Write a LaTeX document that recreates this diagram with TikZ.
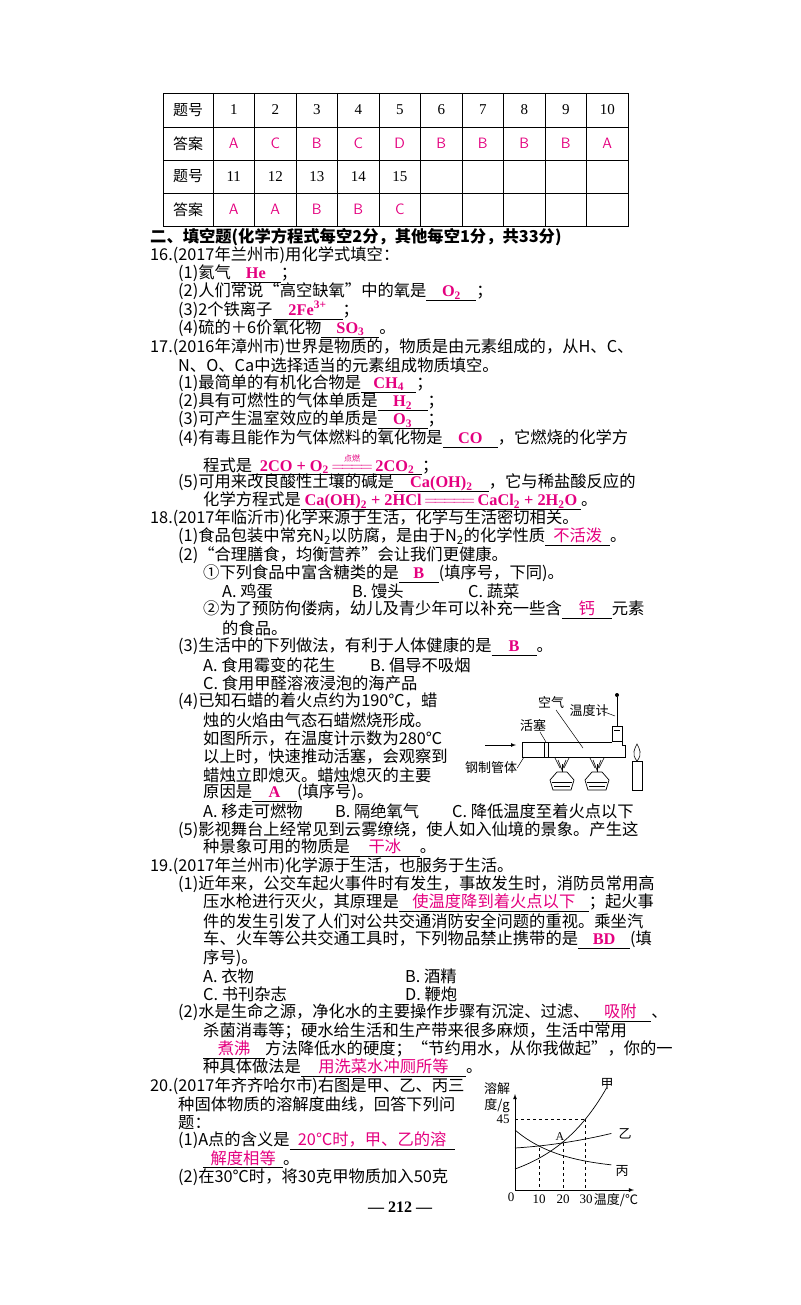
\documentclass[tikz,border=0pt]{standalone}
\usepackage{fontspec}
\usepackage{amsmath}
\setmainfont{Noto Sans CJK SC}
\newfontfamily\lat{Liberation Serif}
\newfontfamily\cjk{Noto Sans CJK SC}
\definecolor{ans}{RGB}{228,0,127}
\newcommand\fs{\fontsize{16.3}{18}\selectfont}
\newcommand\ans[2]{\leavevmode\rlap{\rule[-4pt]{#1}{0.6pt}}\makebox[#1]{\color{ans}#2}}
\newcommand\ansl[2]{\leavevmode\rlap{\rule[-4pt]{#1}{0.6pt}}\makebox[#1]{\color{ans}\lat\bfseries #2}}
\newcommand\sub[1]{\textsubscript{#1}}
\newcommand\dr{\ensuremath{\overset{\text{\cjk\mdseries\fontsize{8}{8}\selectfont 点燃}}{=\joinrel=\joinrel=\joinrel=}}}
\newcommand\dd{\ensuremath{=\joinrel=\joinrel=\joinrel=\joinrel=}}
\tikzset{L/.style={anchor=west,inner sep=0pt,font=\fs},
 C/.style={inner sep=0pt,font=\fontsize{15}{15}\selectfont},
 CA/.style={C,text=ans,font=\fontsize{15}{15}\selectfont\sffamily},
 lab/.style={inner sep=0pt,font=\fontsize{13}{13}\selectfont},
 ax/.style={line width=0.8pt},
 dsh/.style={dashed,line width=0.7pt}}
\begin{document}
\begin{tikzpicture}[x=1pt,y=-1pt]
\useasboundingbox (0,0) rectangle (800,1305);
% table
\draw[line width=0.6pt] (163,93) rectangle (628,226);
\foreach \y in {127,160,193} \draw[line width=0.6pt] (163,\y) -- (628,\y);
\draw[line width=0.6pt] (213,93) -- (213,226);
\foreach \i in {1,...,9} \draw[line width=0.6pt] ({213+41.5*\i},93) -- ({213+41.5*\i},226);
\node[C] (h1) at (188,110) {题号};
\node[C] (h2) at (188,143.5) {答案};
\node[C] (h3) at (188,176.5) {题号};
\node[C] (h4) at (188,209.5) {答案};
\foreach \t [count=\i] in {1,...,10} \node[C,font=\fontsize{15}{15}\selectfont\lat] (n\i) at ({213+41.5*\i-20.75},110) {\t};
\foreach \t [count=\i] in {A,C,B,C,D,B,B,B,B,A} \node[CA] (a\i) at ({213+41.5*\i-20.75},143.5) {\t};
\foreach \t [count=\i] in {11,12,13,14,15} \node[C,font=\fontsize{15}{15}\selectfont\lat] (m\i) at ({213+41.5*\i-20.75},176.5) {\t};
\foreach \t [count=\i] in {A,A,B,B,C} \node[CA] (b\i) at ({213+41.5*\i-20.75},209.5) {\t};
% text
\node[L,font=\fs\bfseries] (t1) at (150,237) {二、填空题(化学方程式每空2分，其他每空1分，共33分)};
\node[L] (t2) at (150,255.3) {16.(2017年兰州市)用化学式填空：};
\node[L] (t3) at (178,273.6) {(1)氦气\ansl{50pt}{He}；};
\node[L] (t4) at (178,291.9) {(2)人们常说“高空缺氧”中的氧是\ansl{50pt}{O\sub{2}}；};
\node[L] (t5) at (178,310.2) {(3)2个铁离子\ansl{70pt}{2Fe\textsuperscript{3+}}；};
\node[L] (t6) at (178,328.5) {(4)硫的＋6价氧化物\ansl{58pt}{SO\sub{3}}。};
\node[L] (t7) at (150,346.8) {17.(2016年漳州市)世界是物质的，物质是由元素组成的，从H、C、};
\node[L] (t8) at (178,365.1) {N、O、Ca中选择适当的元素组成物质填空。};
\node[L] (t9) at (178,383.4) {(1)最简单的有机化合物是\ansl{55pt}{CH\sub{4}}；};
\node[L] (t10) at (178,401.7) {(2)具有可燃性的气体单质是\ansl{50pt}{H\sub{2}}；};
\node[L] (t11) at (178,420) {(3)可产生温室效应的单质是\ansl{50pt}{O\sub{3}}；};
\node[L] (t12) at (178,438.3) {(4)有毒且能作为气体燃料的氧化物是\ansl{55pt}{CO}，它燃烧的化学方};
\node[L] (t13) at (203,464) {程式是\ansl{170pt}{2CO + O\sub{2}\,\dr\,2CO\sub{2}}；};
\node[L] (t14) at (178,482.5) {(5)可用来改良酸性土壤的碱是\ansl{95pt}{Ca(OH)\sub{2}}，它与稀盐酸反应的};
\node[L] (t15) at (203,500.8) {化学方程式是\ansl{280pt}{Ca(OH)\sub{2} + 2HCl\,\dd\,CaCl\sub{2} + 2H\sub{2}O}。};
\node[L] (t16) at (150,518.6) {18.(2017年临沂市)化学来源于生活，化学与生活密切相关。};
\node[L] (t17) at (178,536.9) {(1)食品包装中常充N\sub{2}以防腐，是由于N\sub{2}的化学性质\ans{65pt}{不活泼}。};
\node[L] (t18) at (178,555.2) {(2)“合理膳食，均衡营养”会让我们更健康。};
\node[L] (t19) at (203,573.5) {①下列食品中富含糖类的是\ansl{40pt}{B}(填序号，下同)。};
\node[L] (t20a) at (222,591.8) {A. 鸡蛋};
\node[L] (t20b) at (352,591.8) {B. 馒头};
\node[L] (t20c) at (468,591.8) {C. 蔬菜};
\node[L] (t21) at (203,610.1) {②为了预防佝偻病，幼儿及青少年可以补充一些含\ans{50pt}{钙}元素};
\node[L] (t22) at (222,628.4) {的食品。};
\node[L] (t23) at (178,646.7) {(3)生活中的下列做法，有利于人体健康的是\ansl{45pt}{B}。};
\node[L] (t24a) at (203,665) {A. 食用霉变的花生};
\node[L] (t24b) at (370,665) {B. 倡导不吸烟};
\node[L] (t25) at (203,683.3) {C. 食用甲醛溶液浸泡的海产品};
\node[L] (t26) at (178,701.6) {(4)已知石蜡的着火点约为190℃，蜡};
\node[L] (t27) at (203,719.9) {烛的火焰由气态石蜡燃烧形成。};
\node[L] (t28) at (203,738.2) {如图所示，在温度计示数为280℃};
\node[L] (t29) at (203,756.5) {以上时，快速推动活塞，会观察到};
\node[L] (t30) at (203,774.8) {蜡烛立即熄灭。蜡烛熄灭的主要};
\node[L] (t31) at (203,793.1) {原因是\ansl{45pt}{A}(填序号)。};
\node[L] (t32a) at (203,811.4) {A. 移走可燃物};
\node[L] (t32b) at (335,811.4) {B. 隔绝氧气};
\node[L] (t32c) at (452,811.4) {C. 降低温度至着火点以下};
\node[L] (t33) at (178,829.7) {(5)影视舞台上经常见到云雾缭绕，使人如入仙境的景象。产生这};
\node[L] (t34) at (203,848) {种景象可用的物质是\ans{70pt}{干冰}。};
\node[L] (t35) at (150,866.3) {19.(2017年兰州市)化学源于生活，也服务于生活。};
\node[L] (t36) at (178,884.6) {(1)近年来，公交车起火事件时有发生，事故发生时，消防员常用高};
\node[L] (t37) at (203,902.9) {压水枪进行灭火，其原理是\ans{190pt}{使温度降到着火点以下}；起火事};
\node[L] (t38) at (203,921.2) {件的发生引发了人们对公共交通消防安全问题的重视。乘坐汽};
\node[L] (t39) at (203,939.5) {车、火车等公共交通工具时，下列物品禁止携带的是\ansl{52pt}{BD}(填};
\node[L] (t40) at (203,957.8) {序号)。};
\node[L] (t41a) at (203,976.1) {A. 衣物};
\node[L] (t41b) at (405,976.1) {B. 酒精};
\node[L] (t42a) at (203,994.4) {C. 书刊杂志};
\node[L] (t42b) at (405,994.4) {D. 鞭炮};
\node[L] (t43) at (178,1012.7) {(2)水是生命之源，净化水的主要操作步骤有沉淀、过滤、\ans{62pt}{吸附}、};
\node[L] (t44) at (203,1031) {杀菌消毒等；硬水给生活和生产带来很多麻烦，生活中常用};
\node[L] (t45) at (203,1049.3) {\ans{62pt}{煮沸}方法降低水的硬度；“节约用水，从你我做起”，你的一};
\node[L] (t46) at (203,1067.6) {种具体做法是\ans{165pt}{用洗菜水冲厕所等}。};
\node[L] (t47) at (150,1085.9) {20.(2017年齐齐哈尔市)右图是甲、乙、丙三};
\node[L] (t48) at (178,1104.2) {种固体物质的溶解度曲线，回答下列问};
\node[L] (t49) at (178,1122.5) {题：};
\node[L] (t50) at (178,1140.8) {(1)A点的含义是\ans{165pt}{20℃时，甲、乙的溶}};
\node[L] (t51) at (203,1159.1) {\ans{80pt}{解度相等}。};
\node[L] (t52) at (178,1177.4) {(2)在30℃时，将30克甲物质加入50克};
\node[inner sep=0pt,font=\fontsize{16}{16}\selectfont\lat\bfseries] (pg) at (400,1207) {— 212 —};
% apparatus
\draw[line width=0.8pt] (612,742) -- (522,742) -- (522,757) -- (625,757) -- (625,745) -- (622,745) -- (622,741);
\draw[line width=0.8pt] (612,726) rectangle (622,741);
\draw[line width=0.8pt] (614,730) -- (620,730);
\draw[line width=0.8pt] (617,697) -- (617,726);
\fill (617,695) circle (2pt);
\draw[line width=0.8pt] (544,742) -- (544,757) (548,742) -- (548,757);
\draw[-latex,line width=0.7pt] (485,745) -- (516,745);
\node[lab] (kq) at (551,703) {空气};
\node[lab] (wdj) at (589,711) {温度计};
\node[lab] (hs) at (533,726) {活塞};
\node[lab] (gz) at (491,768) {钢制管体};
\coordinate (kqe) at (583,748);
\coordinate (wdje) at (615,716);
\coordinate (hse) at (546,742);
\coordinate (gze) at (524,757);
\draw[line width=0.5pt] (556,710) -- (kqe);
\draw[line width=0.5pt] (602,711) -- (wdje);
\draw[line width=0.5pt] (540,732) -- (hse);
\draw[line width=0.5pt] (gz.east) -- (gze);
\foreach \cx in {562,597}{
 \draw[line width=0.7pt] (\cx-5,772) -- (\cx-12,780) -- (\cx-9,790) -- (\cx+9,790) -- (\cx+12,780) -- (\cx+5,772) -- cycle;
 \draw[line width=0.5pt] (\cx-10,782) -- (\cx+10,782) (\cx-8,786) -- (\cx+8,786);
 \draw[line width=0.6pt] (\cx,772) -- (\cx,764);
 \draw[line width=0.6pt] (\cx-7,758) -- (\cx-2,768) (\cx+7,758) -- (\cx+2,768) (\cx-4,760) -- (\cx,770) -- (\cx+4,760);
}
\draw[line width=0.7pt] (632,761) rectangle (642,790);
\draw[line width=0.6pt] (637,761) .. controls (631,754) and (635,748) .. (637,744) .. controls (639,748) and (643,754) .. (637,761);
% solubility graph
\draw[ax,-latex] (515,1190) -- (634,1190);
\draw[ax,-latex] (515,1190) -- (515,1094);
\draw[dsh] (515,1119) -- (585,1119);
\draw[dsh] (539,1148) -- (539,1190);
\draw[dsh] (563,1143) -- (563,1190);
\draw[dsh] (585,1119) -- (585,1190);
\draw[line width=0.7pt,domain=0:39,samples=60] plot ({515+2.35*\x},{1190-21*exp(0.0406*\x)});
\draw[line width=0.7pt,domain=0:41,samples=40] plot ({515+2.35*\x},{1190-(42+0.15*\x+0.005*\x*\x)});
\draw[line width=0.7pt,domain=0:41,samples=40] plot ({515+2.35*\x},{1190-(20+40*exp(-0.05*\x))});
\node[lab,font=\fontsize{12}{12}\selectfont\lat] (pA) at (560,1137) {A};
\node[lab,font=\fontsize{13}{13}\selectfont\lat] (o) at (511,1197) {0};
\node[lab,font=\fontsize{13}{13}\selectfont\lat] (x10) at (539,1199) {10};
\node[lab,font=\fontsize{13}{13}\selectfont\lat] (x20) at (563,1199) {20};
\node[lab,font=\fontsize{13}{13}\selectfont\lat] (x30) at (586,1199) {30};
\node[lab,font=\fontsize{13}{13}\selectfont\lat] (y45) at (503,1119) {45};
\node[lab] (xl) at (616,1200) {温度/℃};
\node[lab] (yl1) at (497,1089) {溶解};
\node[lab] (yl2) at (497,1106) {度/g};
\node[lab] (jia) at (607,1084) {甲};
\node[lab] (yi) at (625,1134) {乙};
\node[lab] (bing) at (622,1171) {丙};
\end{tikzpicture}
\end{document}
